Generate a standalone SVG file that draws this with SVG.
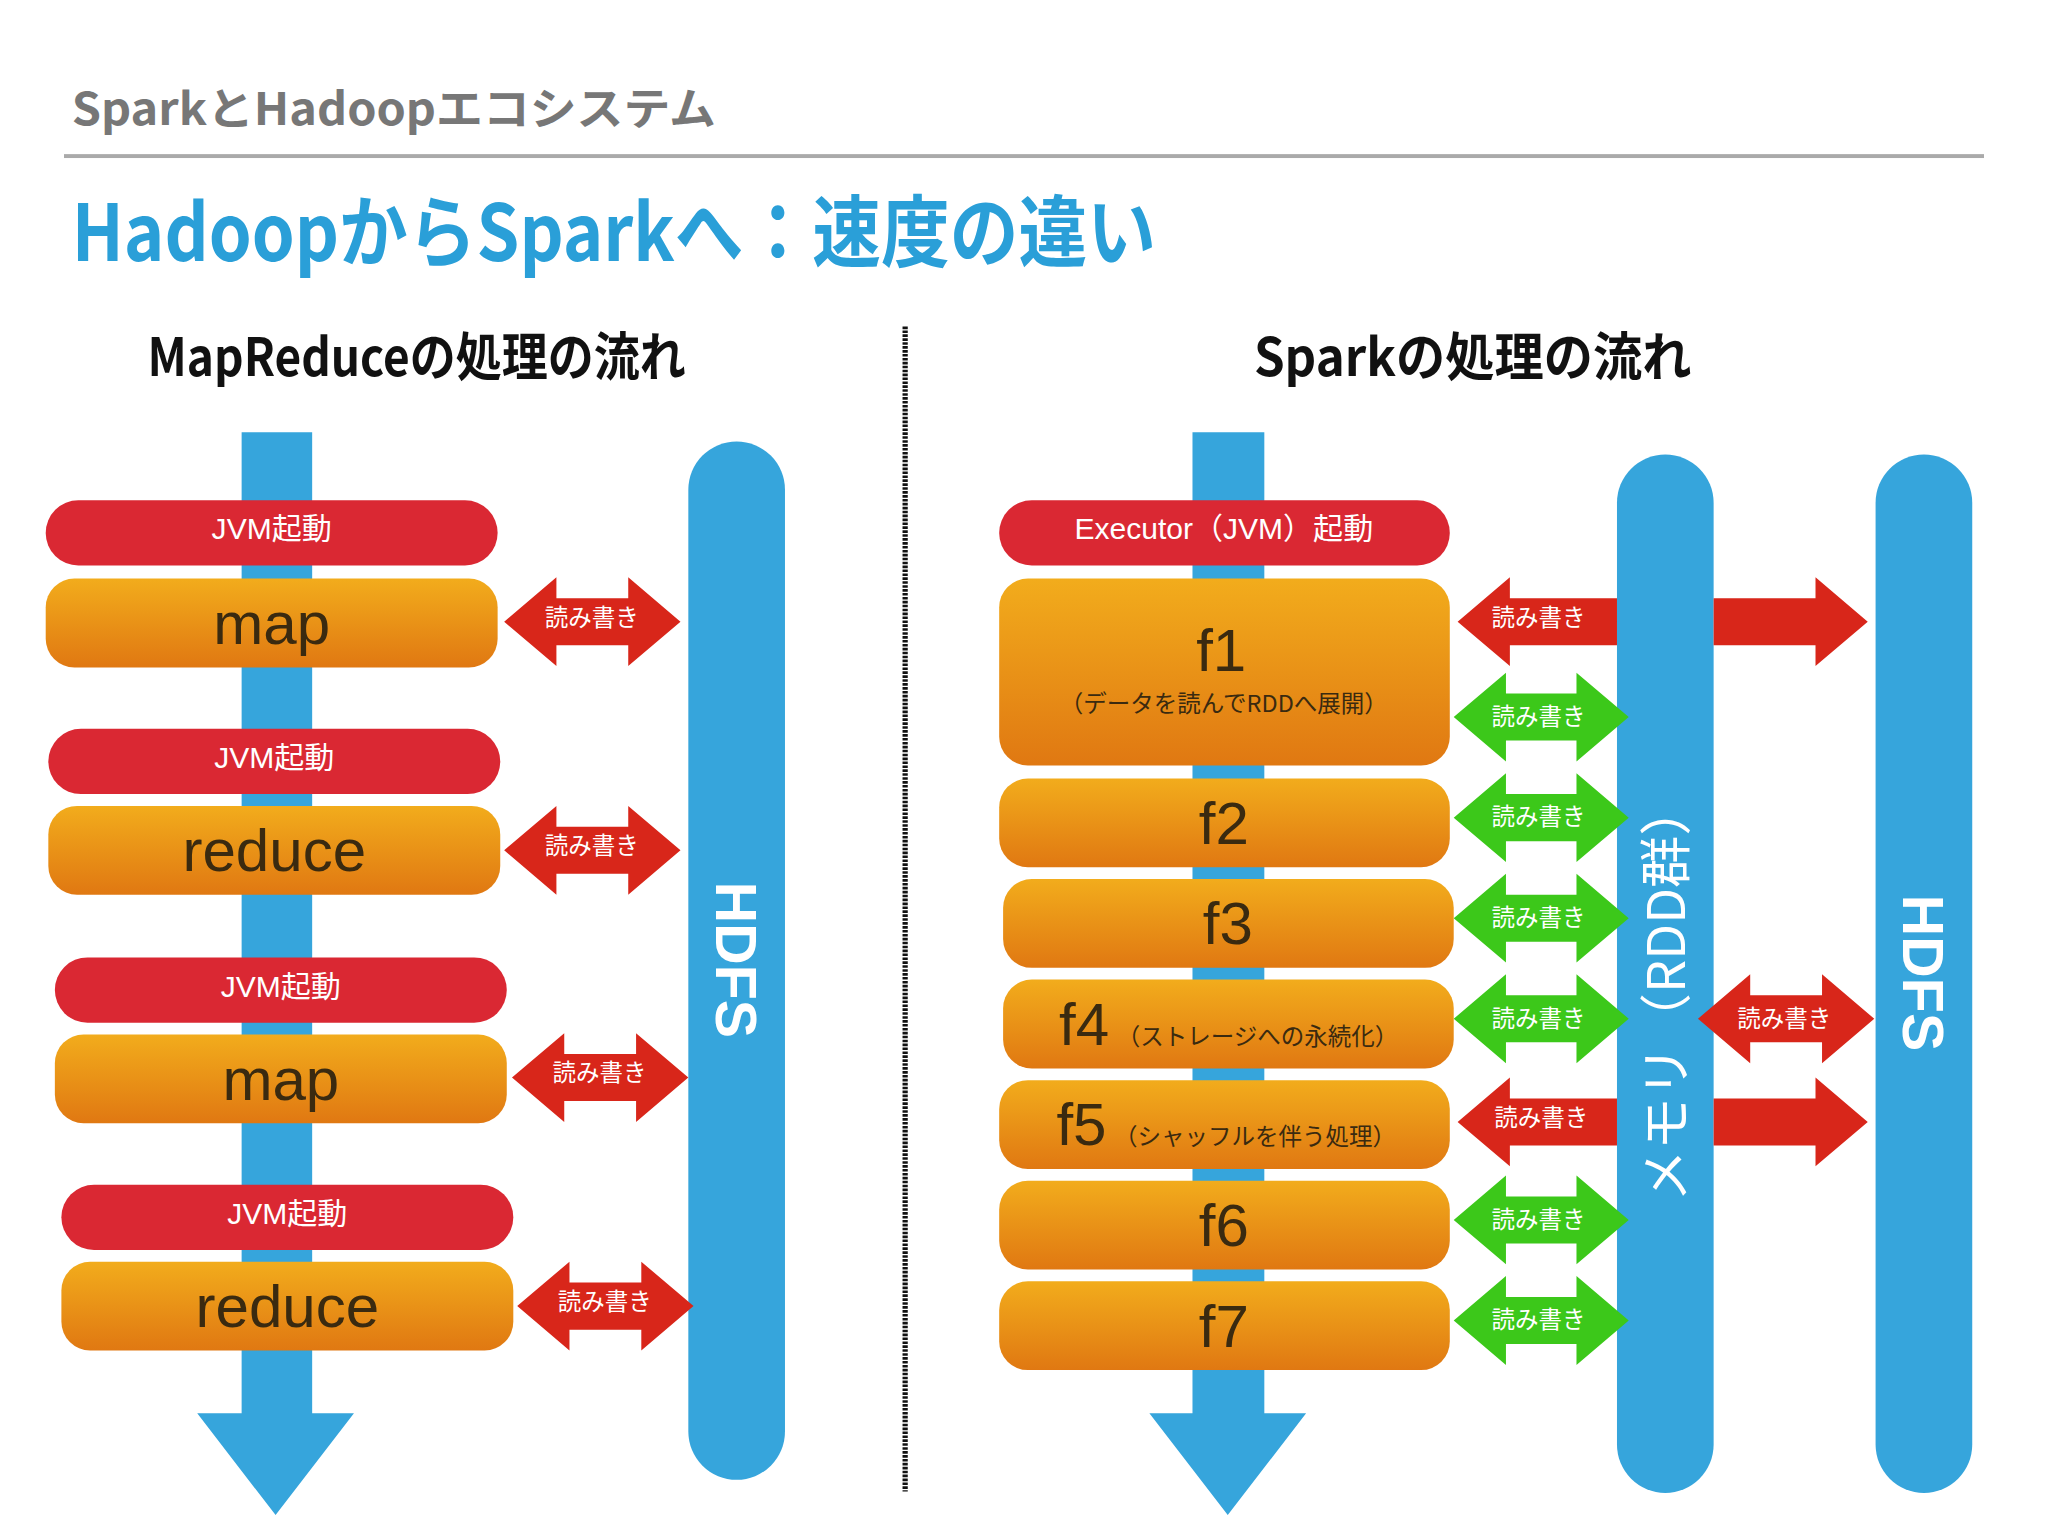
<svg xmlns="http://www.w3.org/2000/svg" width="2048" height="1536" viewBox="0 0 2048 1536">
<defs>
<linearGradient id="og" x1="0" y1="0" x2="0" y2="1"><stop offset="0" stop-color="#f2ac1c"/><stop offset="1" stop-color="#e07812"/></linearGradient>
<style>
.jp{font-family:"Noto Sans CJK JP","Liberation Sans",sans-serif}
.red{fill:#da2833}
.or{fill:url(#og)}
.blue{fill:#36a5dc}
.ar{fill:#d8261a}
.gr{fill:#3cc81a}
.lbl{font-family:"Noto Sans CJK JP",sans-serif;font-size:18px;fill:#fff;text-anchor:middle}
.pill{font-family:"Liberation Sans","Noto Sans CJK JP",sans-serif;font-size:23px;fill:#fff;text-anchor:middle}
.fn{font-family:"Liberation Sans","Noto Sans CJK JP",sans-serif;font-size:46px;fill:#3a2a10;text-anchor:middle}
.sm{font-family:"Noto Sans CJK JP",sans-serif;font-size:18px;fill:#3a2a10}
</style>
</defs>
<rect width="2048" height="1536" fill="#fff"/>
<g transform="scale(1.30612)">
<g id="header">
<text x="55" y="96" class="jp" font-size="34" fill="#777" font-weight="bold" textLength="493" lengthAdjust="spacingAndGlyphs">SparkとHadoopエコシステム</text>
<rect x="49" y="118" width="1470" height="3" fill="#aaa"/>
<text x="55" y="200" class="jp" font-size="60" fill="#2a9fd8" font-weight="bold" textLength="830" lengthAdjust="spacingAndGlyphs">HadoopからSparkへ：速度の違い</text>
<text x="113" y="288" class="jp" font-size="40" font-weight="bold" fill="#111" textLength="412" lengthAdjust="spacingAndGlyphs">MapReduceの処理の流れ</text>
<text x="960" y="288" class="jp" font-size="40" font-weight="bold" fill="#111" textLength="335" lengthAdjust="spacingAndGlyphs">Sparkの処理の流れ</text>
<line x1="693" y1="250" x2="693" y2="1142" stroke="#111" stroke-width="4" stroke-dasharray="2 1"/>
</g>
<g id="hdfs-left"><rect class="blue" x="527" y="338" width="74" height="795" rx="37"/><text transform="translate(548,735) rotate(90)" font-family="Liberation Sans,sans-serif" font-weight="bold" font-size="44" fill="#fff" text-anchor="middle">HDFS</text></g>
<g id="memory"><rect class="blue" x="1238" y="348" width="74" height="795" rx="37"/><text transform="translate(1290,760) rotate(-90)" class="jp" font-size="40" fill="#fff" text-anchor="middle">メモリ（RDD群）</text></g>
<g id="hdfs-right"><rect class="blue" x="1436" y="348" width="74" height="795" rx="37"/><text transform="translate(1457,745) rotate(90)" font-family="Liberation Sans,sans-serif" font-weight="bold" font-size="44" fill="#fff" text-anchor="middle">HDFS</text></g>
<g id="connectors">
<path class="blue" d="M185 331H239V1082H271L211 1160L151 1082H185Z"/>
<path class="blue" d="M913 331H968V1082H1000L940 1160L880 1082H913Z"/>
<path class="ar" d="M386 476L426 442V458H481V442L521 476L481 510V494H426V510Z"/>
<path class="ar" d="M386 651L426 617V633H481V617L521 651L481 685V669H426V685Z"/>
<path class="ar" d="M392 825L432 791V807H487V791L527 825L487 859V843H432V859Z"/>
<path class="ar" d="M396 1000L436 966V982H491V966L531 1000L491 1034V1018H436V1034Z"/>
<path class="ar" d="M1116 476L1156 442V458H1238V494H1156V510Z"/>
<path class="ar" d="M1312 458H1390V442L1430 476L1390 510V494H1312Z"/>
<path class="ar" d="M1116 859L1156 825V841H1238V877H1156V893Z"/>
<path class="ar" d="M1312 841H1390V825L1430 859L1390 893V877H1312Z"/>
<path class="ar" d="M1300 780L1340 746V762H1395V746L1435 780L1395 814V798H1340V814Z"/>
<path class="gr" d="M1113 549L1153 515V531H1207V515L1247 549L1207 583V567H1153V583Z"/>
<path class="gr" d="M1113 626L1153 592V608H1207V592L1247 626L1207 660V644H1153V660Z"/>
<path class="gr" d="M1113 703L1153 669V685H1207V669L1247 703L1207 737V721H1153V737Z"/>
<path class="gr" d="M1113 780L1153 746V762H1207V746L1247 780L1207 814V798H1153V814Z"/>
<path class="gr" d="M1113 934L1153 900V916H1207V900L1247 934L1207 968V952H1153V968Z"/>
<path class="gr" d="M1113 1011L1153 977V993H1207V977L1247 1011L1207 1045V1029H1153V1045Z"/>
<g class="lbl">
<text x="453" y="479">読み書き</text><text x="453" y="654">読み書き</text><text x="459" y="828">読み書き</text><text x="463" y="1003">読み書き</text>
<text x="1178" y="479">読み書き</text><text x="1180" y="862">読み書き</text><text x="1366" y="786">読み書き</text>
<text x="1178" y="555">読み書き</text><text x="1178" y="632">読み書き</text><text x="1178" y="709">読み書き</text><text x="1178" y="786">読み書き</text><text x="1178" y="940">読み書き</text><text x="1178" y="1017">読み書き</text>
</g>
</g>
<g id="jvm1"><rect class="red" x="35" y="383" width="346" height="50" rx="25"/><text class="pill" x="208" y="413">JVM起動</text></g>
<g id="map1"><rect class="or" x="35" y="443" width="346" height="68" rx="22"/><text class="fn" x="208" y="493">map</text></g>
<g id="jvm2"><rect class="red" x="37" y="558" width="346" height="50" rx="25"/><text class="pill" x="210" y="588">JVM起動</text></g>
<g id="reduce1"><rect class="or" x="37" y="617" width="346" height="68" rx="22"/><text class="fn" x="210" y="667">reduce</text></g>
<g id="jvm3"><rect class="red" x="42" y="733" width="346" height="50" rx="25"/><text class="pill" x="215" y="763">JVM起動</text></g>
<g id="map2"><rect class="or" x="42" y="792" width="346" height="68" rx="22"/><text class="fn" x="215" y="842">map</text></g>
<g id="jvm4"><rect class="red" x="47" y="907" width="346" height="50" rx="25"/><text class="pill" x="220" y="937">JVM起動</text></g>
<g id="reduce2"><rect class="or" x="47" y="966" width="346" height="68" rx="22"/><text class="fn" x="220" y="1016">reduce</text></g>
<g id="executor"><rect class="red" x="765" y="383" width="345" height="50" rx="25"/><text class="pill" x="937" y="413">Executor（JVM）起動</text></g>
<g id="f1"><rect class="or" x="765" y="443" width="345" height="143" rx="22"/><text class="fn" x="935" y="514">f1</text><text class="sm" x="937" y="545" text-anchor="middle" font-size="22">（データを読んでRDDへ展開）</text></g>
<g id="f2"><rect class="or" x="765" y="596" width="345" height="68" rx="22"/><text class="fn" x="937" y="646">f2</text></g>
<g id="f3"><rect class="or" x="768" y="673" width="345" height="68" rx="22"/><text class="fn" x="940" y="723">f3</text></g>
<g id="f4"><rect class="or" x="768" y="750" width="345" height="68" rx="22"/><text class="fn" x="830" y="800">f4</text><text class="sm" x="855" y="800">（ストレージへの永続化）</text></g>
<g id="f5"><rect class="or" x="765" y="827" width="345" height="68" rx="22"/><text class="fn" x="828" y="877">f5</text><text class="sm" x="853" y="877">（シャッフルを伴う処理）</text></g>
<g id="f6"><rect class="or" x="765" y="904" width="345" height="68" rx="22"/><text class="fn" x="937" y="954">f6</text></g>
<g id="f7"><rect class="or" x="765" y="981" width="345" height="68" rx="22"/><text class="fn" x="937" y="1031">f7</text></g>
</g>
</svg>
